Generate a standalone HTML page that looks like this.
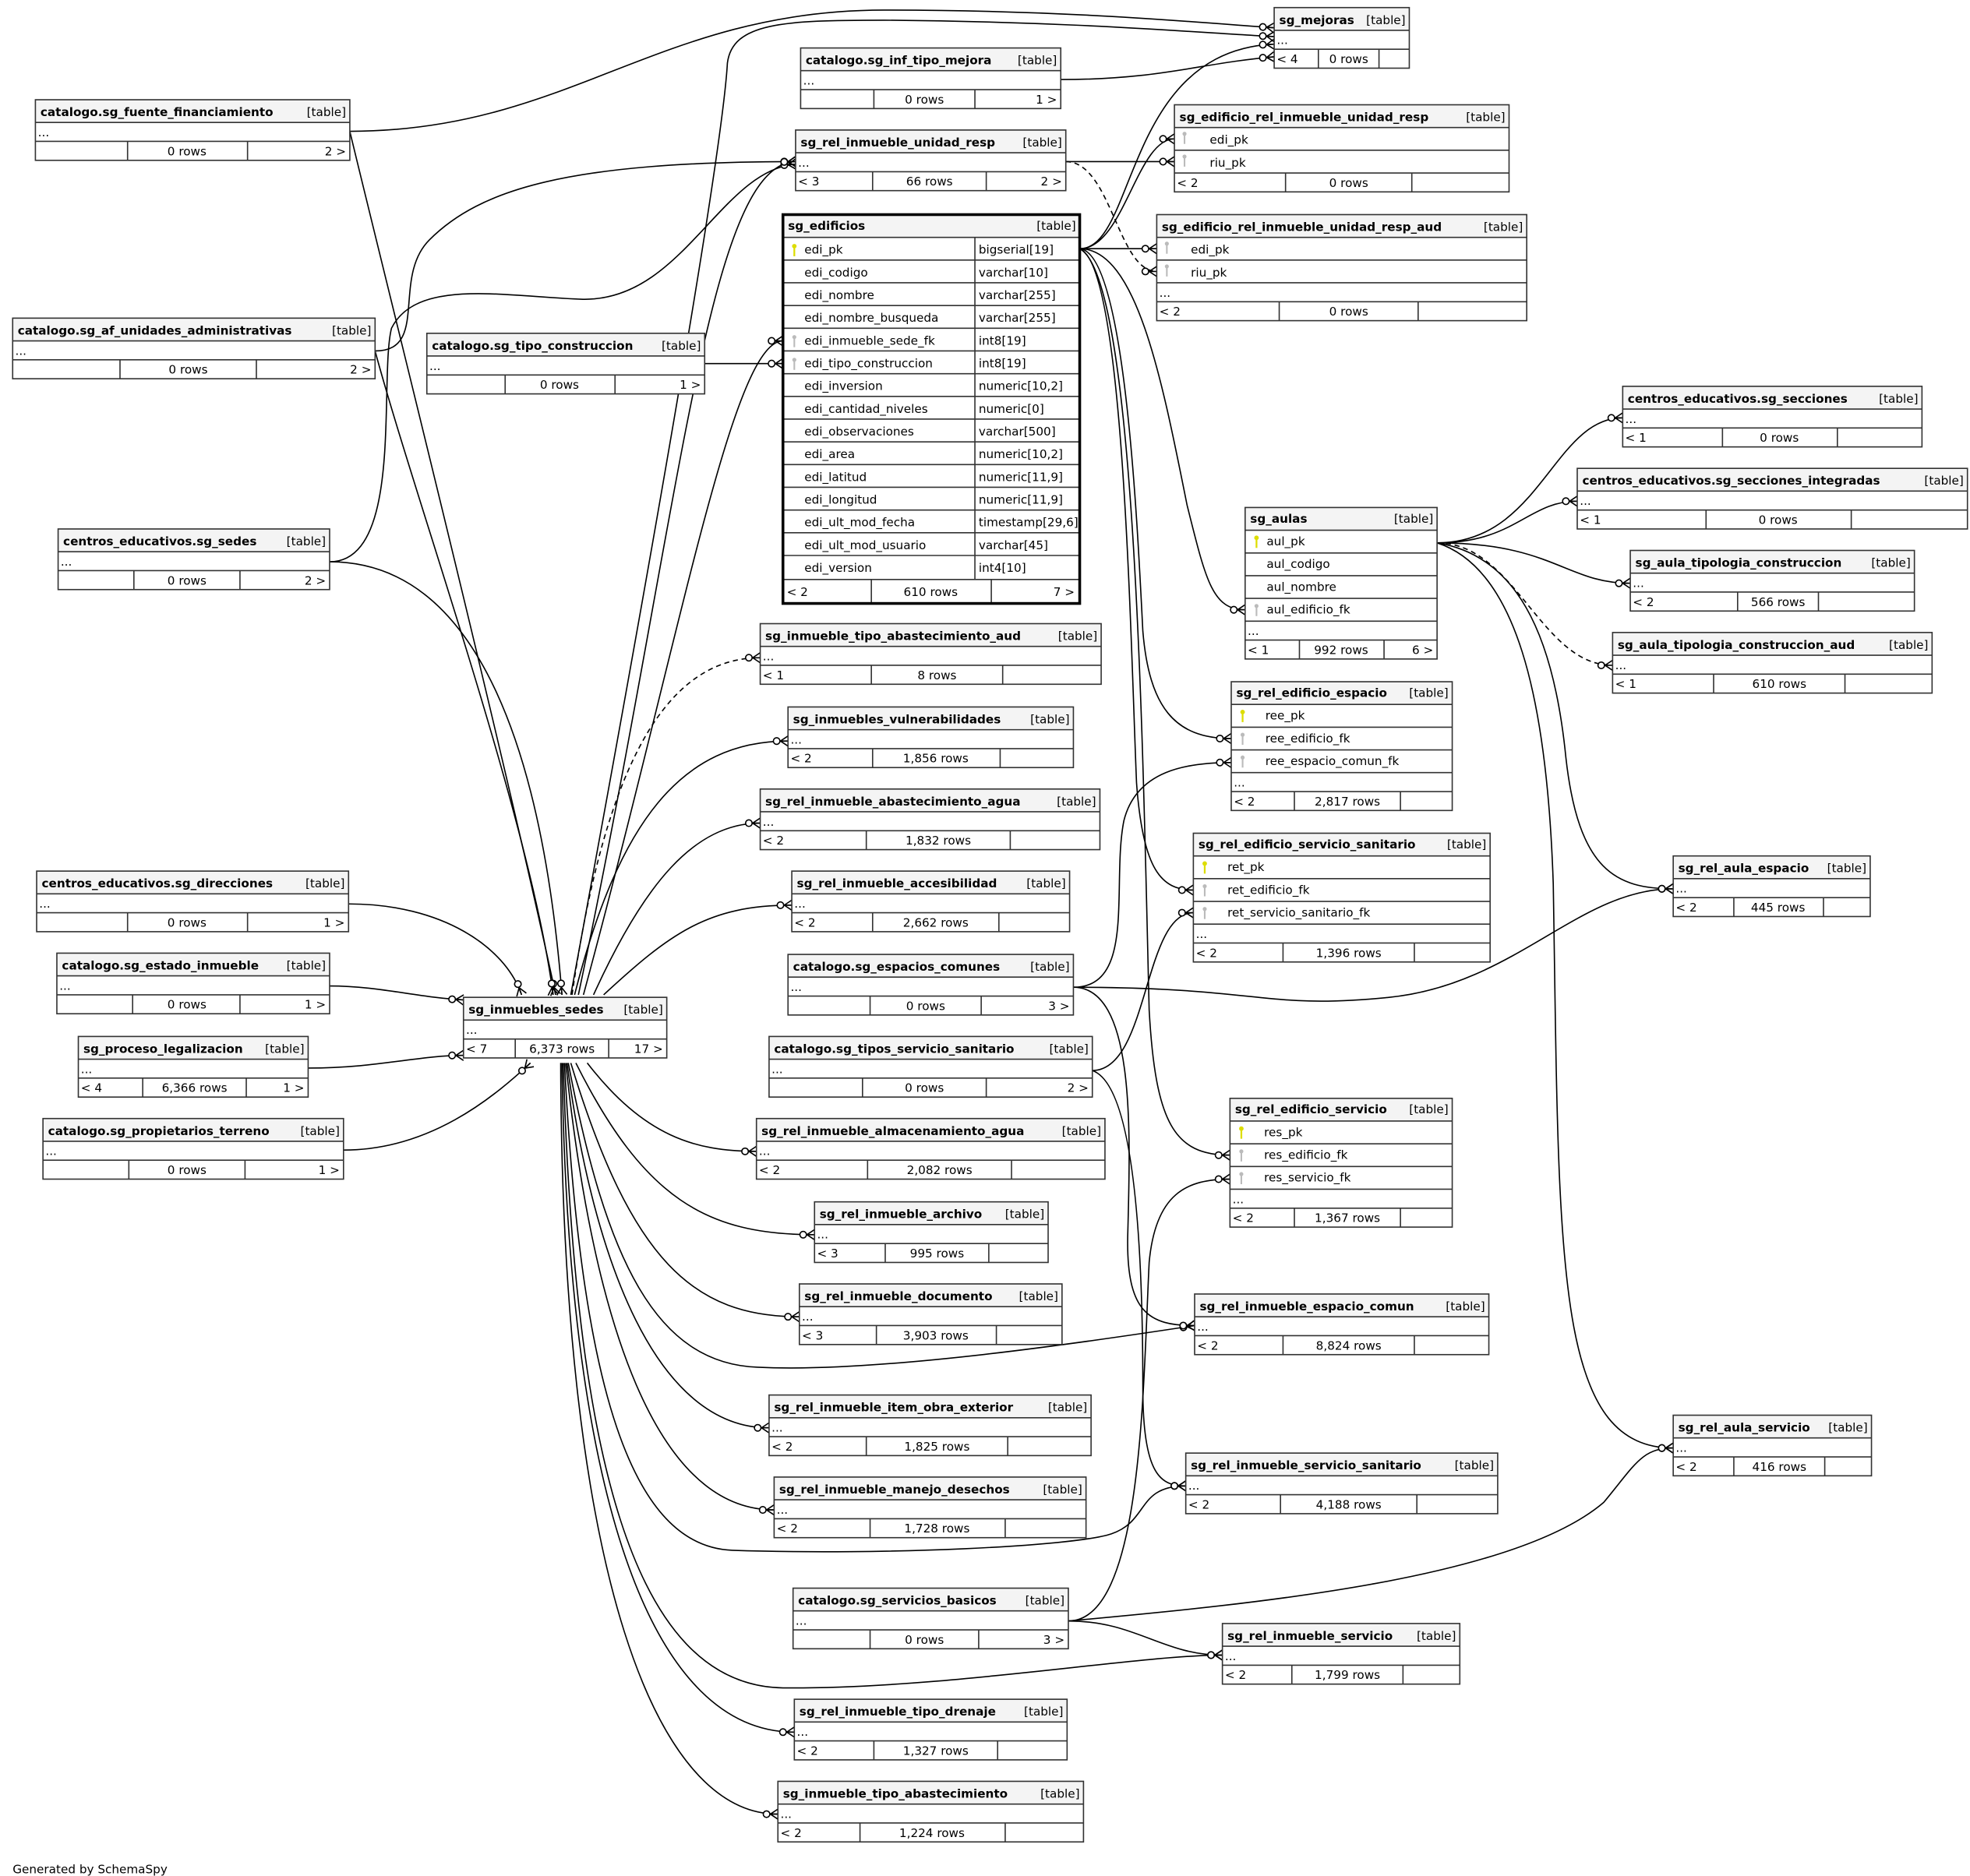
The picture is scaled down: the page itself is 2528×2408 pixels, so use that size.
<!DOCTYPE html>
<html><head><meta charset="utf-8"><style>
html,body{margin:0;padding:0;background:#fff}
svg{display:block}
text{font-family:"DejaVu Sans","Liberation Sans",sans-serif;font-size:9.4px;fill:#000}
.t{font-weight:bold}
.b{fill:none;stroke:#333;stroke-width:1}
.h{fill:#f4f4f4;stroke:none}
.l{stroke:#333;stroke-width:1}
.e{fill:none;stroke:#000;stroke-width:1;marker-end:url(#cf)}
.d{stroke-dasharray:4,3}
</style></head><body>
<svg width="2528" height="2408" viewBox="0 0 1560 1486" xmlns="http://www.w3.org/2000/svg">
<defs>
<marker id="cf" viewBox="-13 -6 14 12" refX="0" refY="0" markerWidth="14" markerHeight="12" markerUnits="userSpaceOnUse" orient="auto">
<path d="M-6,0 L0,-4 M-6,0 L0,0 M-6,0 L0,4" stroke="#000" stroke-width="1" fill="none"/>
<circle cx="-9" cy="0" r="2.6" fill="#fff" stroke="#000" stroke-width="1"/>
</marker>
</defs>

<!-- edges -->
<path class="e" d="M277,104 C450,104 520,8 700,8 C850,8 950,18 1009,22"/>
<path class="e" d="M452,788 C520,420 572,120 576,50 C580,18 620,16 700,16 C850,17 950,26 1009,29"/>
<path class="e" d="M840,63 C920,63 950,50 1009,45"/>
<path class="e" d="M855,197 C900,197 890,40 1009,35"/>
<path class="e" d="M855,197 C890,197 900,110 930,110"/>
<path class="e" d="M855,197 L916,197"/>
<path class="e" d="M844,128 L930,128"/>
<path class="e d" d="M844,128 C880,128 885,215 916,215"/>
<path class="e" d="M297,278 C340,278 310,220 340,190 C380,150 450,128 630,128"/>
<path class="e" d="M261,445 C320,445 300,300 310,260 C330,220 400,235 460,237 C540,240 570,135 630,130"/>
<path class="e" d="M458,788 C540,400 560,130 630,128"/>
<path class="e" d="M462,788 C540,500 580,270 620,270"/>
<path class="e" d="M558,288 L620,288"/>
<path class="e" d="M277,104 C300,200 400,600 440,788"/>
<path class="e" d="M297,278 C330,400 420,650 438,788"/>
<path class="e" d="M261,445 C380,445 430,600 445,788"/>
<path class="e" d="M276,716 C350,716 400,750 413,788"/>
<path class="e" d="M261,781 C300,781 330,790 367,792"/>
<path class="e" d="M244,846 C300,846 330,836 367,836"/>
<path class="e" d="M272,911 C340,911 390,870 420,842"/>
<path class="e d" d="M453,788 C480,600 530,521 602,521"/>
<path class="e" d="M455,788 C490,650 540,587 624,587"/>
<path class="e" d="M470,788 C510,700 550,652 602,652"/>
<path class="e" d="M478,788 C530,740 560,717 627,717"/>
<path class="e" d="M465,842 C510,900 550,912 599,912"/>
<path class="e" d="M456,842 C510,950 560,978 645,978"/>
<path class="e" d="M452,842 C500,1000 550,1043 633,1043"/>
<path class="e" d="M450,842 C480,1000 520,1080 600,1083 C700,1088 880,1060 946,1050"/>
<path class="e" d="M449,842 C470,1000 520,1131 609,1131"/>
<path class="e" d="M448,842 C470,1050 520,1196 613,1196"/>
<path class="e" d="M447,842 C460,1100 500,1225 580,1228 C700,1232 850,1225 880,1215 C910,1205 900,1177 939,1177"/>
<path class="e" d="M446,842 C455,1150 500,1335 620,1337 C750,1338 900,1311 968,1311"/>
<path class="e" d="M445,842 C450,1200 520,1372 629,1372"/>
<path class="e" d="M444,842 C445,1250 520,1437 616,1437"/>
<path class="e" d="M855,197 C900,197 920,300 940,400 C955,460 960,483 986,483"/>
<path class="e" d="M855,197 C890,200 900,400 905,500 C910,560 930,585 975,585"/>
<path class="e" d="M855,197 C890,210 895,500 900,620 C905,690 920,705 945,705"/>
<path class="e" d="M855,197 C900,220 905,600 910,800 C915,890 930,915 974,915"/>
<path class="e" d="M1138,430 C1220,430 1230,331 1285,331"/>
<path class="e" d="M1138,430 C1200,430 1210,397 1249,397"/>
<path class="e" d="M1138,430 C1230,430 1240,462 1291,462"/>
<path class="e d" d="M1138,430 C1200,430 1220,527 1277,527"/>
<path class="e" d="M1138,430 C1200,440 1230,500 1240,600 C1250,690 1280,704 1325,704"/>
<path class="e" d="M1138,430 C1200,450 1225,550 1230,700 C1235,1000 1230,1147 1325,1147"/>
<path class="e" d="M850,782 C900,782 880,700 890,650 C900,610 940,604 975,604"/>
<path class="e" d="M850,782 C1000,782 1000,800 1100,790 C1200,780 1250,704 1325,704"/>
<path class="e" d="M850,782 C900,782 895,900 893,980 C892,1040 910,1050 946,1050"/>
<path class="e" d="M865,848 C910,848 905,723 945,723"/>
<path class="e" d="M865,848 C900,860 905,1000 905,1100 C905,1170 920,1177 939,1177"/>
<path class="e" d="M846,1284 C905,1284 905,1100 910,1000 C915,945 940,934 974,934"/>
<path class="e" d="M846,1284 C900,1284 920,1311 968,1311"/>
<path class="e" d="M846,1284 C1000,1270 1200,1250 1270,1190 C1295,1160 1300,1147 1325,1147"/>

<!-- simple tables -->
<g id="A"><rect x="1009" y="6" width="107" height="48" fill="#fff"/><rect x="1009" y="6" width="107" height="18" class="h"/><line x1="1009" y1="24" x2="1116" y2="24" class="l"/><line x1="1009" y1="39" x2="1116" y2="39" class="l"/><line x1="1044" y1="39" x2="1044" y2="54" class="l"/><line x1="1092" y1="39" x2="1092" y2="54" class="l"/><rect x="1009" y="6" width="107" height="48" class="b"/>
<text x="1013" y="19" class="t">sg_mejoras</text><text x="1113" y="19" text-anchor="end">[table]</text><text x="1011" y="35">...</text><text x="1011" y="50">&lt; 4</text><text x="1068" y="50" text-anchor="middle">0 rows</text></g>

<g><rect x="634" y="38" width="206" height="48" fill="#fff"/><rect x="634" y="38" width="206" height="18" class="h"/><line x1="634" y1="56" x2="840" y2="56" class="l"/><line x1="634" y1="71" x2="840" y2="71" class="l"/><line x1="692" y1="71" x2="692" y2="86" class="l"/><line x1="772" y1="71" x2="772" y2="86" class="l"/><rect x="634" y="38" width="206" height="48" class="b"/>
<text x="638" y="51" class="t">catalogo.sg_inf_tipo_mejora</text><text x="837" y="51" text-anchor="end">[table]</text><text x="636" y="67">...</text><text x="732" y="82" text-anchor="middle">0 rows</text><text x="837" y="82" text-anchor="end">1 &gt;</text></g>

<g><rect x="28" y="79" width="249" height="48" fill="#fff"/><rect x="28" y="79" width="249" height="18" class="h"/><line x1="28" y1="97" x2="277" y2="97" class="l"/><line x1="28" y1="112" x2="277" y2="112" class="l"/><line x1="101" y1="112" x2="101" y2="127" class="l"/><line x1="196" y1="112" x2="196" y2="127" class="l"/><rect x="28" y="79" width="249" height="48" class="b"/>
<text x="32" y="92" class="t">catalogo.sg_fuente_financiamiento</text><text x="274" y="92" text-anchor="end">[table]</text><text x="30" y="108">...</text><text x="148" y="123" text-anchor="middle">0 rows</text><text x="274" y="123" text-anchor="end">2 &gt;</text></g>

<g><rect x="630" y="103" width="214" height="48" fill="#fff"/><rect x="630" y="103" width="214" height="18" class="h"/><line x1="630" y1="121" x2="844" y2="121" class="l"/><line x1="630" y1="136" x2="844" y2="136" class="l"/><line x1="691" y1="136" x2="691" y2="151" class="l"/><line x1="781" y1="136" x2="781" y2="151" class="l"/><rect x="630" y="103" width="214" height="48" class="b"/>
<text x="634" y="116" class="t">sg_rel_inmueble_unidad_resp</text><text x="841" y="116" text-anchor="end">[table]</text><text x="632" y="132">...</text><text x="632" y="147">&lt; 3</text><text x="736" y="147" text-anchor="middle">66 rows</text><text x="841" y="147" text-anchor="end">2 &gt;</text></g>

<g><rect x="10" y="252" width="287" height="48" fill="#fff"/><rect x="10" y="252" width="287" height="18" class="h"/><line x1="10" y1="270" x2="297" y2="270" class="l"/><line x1="10" y1="285" x2="297" y2="285" class="l"/><line x1="95" y1="285" x2="95" y2="300" class="l"/><line x1="203" y1="285" x2="203" y2="300" class="l"/><rect x="10" y="252" width="287" height="48" class="b"/>
<text x="14" y="265" class="t">catalogo.sg_af_unidades_administrativas</text><text x="294" y="265" text-anchor="end">[table]</text><text x="12" y="281">...</text><text x="149" y="296" text-anchor="middle">0 rows</text><text x="294" y="296" text-anchor="end">2 &gt;</text></g>

<g><rect x="338" y="264" width="220" height="48" fill="#fff"/><rect x="338" y="264" width="220" height="18" class="h"/><line x1="338" y1="282" x2="558" y2="282" class="l"/><line x1="338" y1="297" x2="558" y2="297" class="l"/><line x1="400" y1="297" x2="400" y2="312" class="l"/><line x1="487" y1="297" x2="487" y2="312" class="l"/><rect x="338" y="264" width="220" height="48" class="b"/>
<text x="342" y="277" class="t">catalogo.sg_tipo_construccion</text><text x="555" y="277" text-anchor="end">[table]</text><text x="340" y="293">...</text><text x="443" y="308" text-anchor="middle">0 rows</text><text x="555" y="308" text-anchor="end">1 &gt;</text></g>

<g><rect x="46" y="419" width="215" height="48" fill="#fff"/><rect x="46" y="419" width="215" height="18" class="h"/><line x1="46" y1="437" x2="261" y2="437" class="l"/><line x1="46" y1="452" x2="261" y2="452" class="l"/><line x1="106" y1="452" x2="106" y2="467" class="l"/><line x1="190" y1="452" x2="190" y2="467" class="l"/><rect x="46" y="419" width="215" height="48" class="b"/>
<text x="50" y="432" class="t">centros_educativos.sg_sedes</text><text x="258" y="432" text-anchor="end">[table]</text><text x="48" y="448">...</text><text x="148" y="463" text-anchor="middle">0 rows</text><text x="258" y="463" text-anchor="end">2 &gt;</text></g>

<g><rect x="1285" y="306" width="237" height="48" fill="#fff"/><rect x="1285" y="306" width="237" height="18" class="h"/><line x1="1285" y1="324" x2="1522" y2="324" class="l"/><line x1="1285" y1="339" x2="1522" y2="339" class="l"/><line x1="1364" y1="339" x2="1364" y2="354" class="l"/><line x1="1455" y1="339" x2="1455" y2="354" class="l"/><rect x="1285" y="306" width="237" height="48" class="b"/>
<text x="1289" y="319" class="t">centros_educativos.sg_secciones</text><text x="1519" y="319" text-anchor="end">[table]</text><text x="1287" y="335">...</text><text x="1287" y="350">&lt; 1</text><text x="1409" y="350" text-anchor="middle">0 rows</text></g>

<g><rect x="1249" y="371" width="309" height="48" fill="#fff"/><rect x="1249" y="371" width="309" height="18" class="h"/><line x1="1249" y1="389" x2="1558" y2="389" class="l"/><line x1="1249" y1="404" x2="1558" y2="404" class="l"/><line x1="1351" y1="404" x2="1351" y2="419" class="l"/><line x1="1466" y1="404" x2="1466" y2="419" class="l"/><rect x="1249" y="371" width="309" height="48" class="b"/>
<text x="1253" y="384" class="t">centros_educativos.sg_secciones_integradas</text><text x="1555" y="384" text-anchor="end">[table]</text><text x="1251" y="400">...</text><text x="1251" y="415">&lt; 1</text><text x="1408" y="415" text-anchor="middle">0 rows</text></g>

<g><rect x="1291" y="436" width="225" height="48" fill="#fff"/><rect x="1291" y="436" width="225" height="18" class="h"/><line x1="1291" y1="454" x2="1516" y2="454" class="l"/><line x1="1291" y1="469" x2="1516" y2="469" class="l"/><line x1="1376" y1="469" x2="1376" y2="484" class="l"/><line x1="1440" y1="469" x2="1440" y2="484" class="l"/><rect x="1291" y="436" width="225" height="48" class="b"/>
<text x="1295" y="449" class="t">sg_aula_tipologia_construccion</text><text x="1513" y="449" text-anchor="end">[table]</text><text x="1293" y="465">...</text><text x="1293" y="480">&lt; 2</text><text x="1408" y="480" text-anchor="middle">566 rows</text></g>

<g><rect x="1277" y="501" width="253" height="48" fill="#fff"/><rect x="1277" y="501" width="253" height="18" class="h"/><line x1="1277" y1="519" x2="1530" y2="519" class="l"/><line x1="1277" y1="534" x2="1530" y2="534" class="l"/><line x1="1357" y1="534" x2="1357" y2="549" class="l"/><line x1="1461" y1="534" x2="1461" y2="549" class="l"/><rect x="1277" y="501" width="253" height="48" class="b"/>
<text x="1281" y="514" class="t">sg_aula_tipologia_construccion_aud</text><text x="1527" y="514" text-anchor="end">[table]</text><text x="1279" y="530">...</text><text x="1279" y="545">&lt; 1</text><text x="1409" y="545" text-anchor="middle">610 rows</text></g>

<g><rect x="602" y="494" width="270" height="48" fill="#fff"/><rect x="602" y="494" width="270" height="18" class="h"/><line x1="602" y1="512" x2="872" y2="512" class="l"/><line x1="602" y1="527" x2="872" y2="527" class="l"/><line x1="690" y1="527" x2="690" y2="542" class="l"/><line x1="794" y1="527" x2="794" y2="542" class="l"/><rect x="602" y="494" width="270" height="48" class="b"/>
<text x="606" y="507" class="t">sg_inmueble_tipo_abastecimiento_aud</text><text x="869" y="507" text-anchor="end">[table]</text><text x="604" y="523">...</text><text x="604" y="538">&lt; 1</text><text x="742" y="538" text-anchor="middle">8 rows</text></g>

<g><rect x="624" y="560" width="226" height="48" fill="#fff"/><rect x="624" y="560" width="226" height="18" class="h"/><line x1="624" y1="578" x2="850" y2="578" class="l"/><line x1="624" y1="593" x2="850" y2="593" class="l"/><line x1="691" y1="593" x2="691" y2="608" class="l"/><line x1="792" y1="593" x2="792" y2="608" class="l"/><rect x="624" y="560" width="226" height="48" class="b"/>
<text x="628" y="573" class="t">sg_inmuebles_vulnerabilidades</text><text x="847" y="573" text-anchor="end">[table]</text><text x="626" y="589">...</text><text x="626" y="604">&lt; 2</text><text x="741" y="604" text-anchor="middle">1,856 rows</text></g>

<g><rect x="602" y="625" width="269" height="48" fill="#fff"/><rect x="602" y="625" width="269" height="18" class="h"/><line x1="602" y1="643" x2="871" y2="643" class="l"/><line x1="602" y1="658" x2="871" y2="658" class="l"/><line x1="686" y1="658" x2="686" y2="673" class="l"/><line x1="800" y1="658" x2="800" y2="673" class="l"/><rect x="602" y="625" width="269" height="48" class="b"/>
<text x="606" y="638" class="t">sg_rel_inmueble_abastecimiento_agua</text><text x="868" y="638" text-anchor="end">[table]</text><text x="604" y="654">...</text><text x="604" y="669">&lt; 2</text><text x="743" y="669" text-anchor="middle">1,832 rows</text></g>

<g><rect x="1325" y="678" width="156" height="48" fill="#fff"/><rect x="1325" y="678" width="156" height="18" class="h"/><line x1="1325" y1="696" x2="1481" y2="696" class="l"/><line x1="1325" y1="711" x2="1481" y2="711" class="l"/><line x1="1373" y1="711" x2="1373" y2="726" class="l"/><line x1="1444" y1="711" x2="1444" y2="726" class="l"/><rect x="1325" y="678" width="156" height="48" class="b"/>
<text x="1329" y="691" class="t">sg_rel_aula_espacio</text><text x="1478" y="691" text-anchor="end">[table]</text><text x="1327" y="707">...</text><text x="1327" y="722">&lt; 2</text><text x="1408" y="722" text-anchor="middle">445 rows</text></g>

<g><rect x="627" y="690" width="220" height="48" fill="#fff"/><rect x="627" y="690" width="220" height="18" class="h"/><line x1="627" y1="708" x2="847" y2="708" class="l"/><line x1="627" y1="723" x2="847" y2="723" class="l"/><line x1="691" y1="723" x2="691" y2="738" class="l"/><line x1="791" y1="723" x2="791" y2="738" class="l"/><rect x="627" y="690" width="220" height="48" class="b"/>
<text x="631" y="703" class="t">sg_rel_inmueble_accesibilidad</text><text x="844" y="703" text-anchor="end">[table]</text><text x="629" y="719">...</text><text x="629" y="734">&lt; 2</text><text x="741" y="734" text-anchor="middle">2,662 rows</text></g>

<g><rect x="29" y="690" width="247" height="48" fill="#fff"/><rect x="29" y="690" width="247" height="18" class="h"/><line x1="29" y1="708" x2="276" y2="708" class="l"/><line x1="29" y1="723" x2="276" y2="723" class="l"/><line x1="101" y1="723" x2="101" y2="738" class="l"/><line x1="196" y1="723" x2="196" y2="738" class="l"/><rect x="29" y="690" width="247" height="48" class="b"/>
<text x="33" y="703" class="t">centros_educativos.sg_direcciones</text><text x="273" y="703" text-anchor="end">[table]</text><text x="31" y="719">...</text><text x="148" y="734" text-anchor="middle">0 rows</text><text x="273" y="734" text-anchor="end">1 &gt;</text></g>

<g><rect x="624" y="756" width="226" height="48" fill="#fff"/><rect x="624" y="756" width="226" height="18" class="h"/><line x1="624" y1="774" x2="850" y2="774" class="l"/><line x1="624" y1="789" x2="850" y2="789" class="l"/><line x1="689" y1="789" x2="689" y2="804" class="l"/><line x1="777" y1="789" x2="777" y2="804" class="l"/><rect x="624" y="756" width="226" height="48" class="b"/>
<text x="628" y="769" class="t">catalogo.sg_espacios_comunes</text><text x="847" y="769" text-anchor="end">[table]</text><text x="626" y="785">...</text><text x="733" y="800" text-anchor="middle">0 rows</text><text x="847" y="800" text-anchor="end">3 &gt;</text></g>

<g><rect x="45" y="755" width="216" height="48" fill="#fff"/><rect x="45" y="755" width="216" height="18" class="h"/><line x1="45" y1="773" x2="261" y2="773" class="l"/><line x1="45" y1="788" x2="261" y2="788" class="l"/><line x1="105" y1="788" x2="105" y2="803" class="l"/><line x1="190" y1="788" x2="190" y2="803" class="l"/><rect x="45" y="755" width="216" height="48" class="b"/>
<text x="49" y="768" class="t">catalogo.sg_estado_inmueble</text><text x="258" y="768" text-anchor="end">[table]</text><text x="47" y="784">...</text><text x="148" y="799" text-anchor="middle">0 rows</text><text x="258" y="799" text-anchor="end">1 &gt;</text></g>

<g><rect x="367" y="790" width="161" height="48" fill="#fff"/><rect x="367" y="790" width="161" height="18" class="h"/><line x1="367" y1="808" x2="528" y2="808" class="l"/><line x1="367" y1="823" x2="528" y2="823" class="l"/><line x1="408" y1="823" x2="408" y2="838" class="l"/><line x1="482" y1="823" x2="482" y2="838" class="l"/><rect x="367" y="790" width="161" height="48" class="b"/>
<text x="371" y="803" class="t">sg_inmuebles_sedes</text><text x="525" y="803" text-anchor="end">[table]</text><text x="369" y="819">...</text><text x="369" y="834">&lt; 7</text><text x="445" y="834" text-anchor="middle">6,373 rows</text><text x="525" y="834" text-anchor="end">17 &gt;</text></g>

<g><rect x="609" y="821" width="256" height="48" fill="#fff"/><rect x="609" y="821" width="256" height="18" class="h"/><line x1="609" y1="839" x2="865" y2="839" class="l"/><line x1="609" y1="854" x2="865" y2="854" class="l"/><line x1="683" y1="854" x2="683" y2="869" class="l"/><line x1="781" y1="854" x2="781" y2="869" class="l"/><rect x="609" y="821" width="256" height="48" class="b"/>
<text x="613" y="834" class="t">catalogo.sg_tipos_servicio_sanitario</text><text x="862" y="834" text-anchor="end">[table]</text><text x="611" y="850">...</text><text x="732" y="865" text-anchor="middle">0 rows</text><text x="862" y="865" text-anchor="end">2 &gt;</text></g>

<g><rect x="62" y="821" width="182" height="48" fill="#fff"/><rect x="62" y="821" width="182" height="18" class="h"/><line x1="62" y1="839" x2="244" y2="839" class="l"/><line x1="62" y1="854" x2="244" y2="854" class="l"/><line x1="113" y1="854" x2="113" y2="869" class="l"/><line x1="195" y1="854" x2="195" y2="869" class="l"/><rect x="62" y="821" width="182" height="48" class="b"/>
<text x="66" y="834" class="t">sg_proceso_legalizacion</text><text x="241" y="834" text-anchor="end">[table]</text><text x="64" y="850">...</text><text x="64" y="865">&lt; 4</text><text x="154" y="865" text-anchor="middle">6,366 rows</text><text x="241" y="865" text-anchor="end">1 &gt;</text></g>

<g><rect x="34" y="886" width="238" height="48" fill="#fff"/><rect x="34" y="886" width="238" height="18" class="h"/><line x1="34" y1="904" x2="272" y2="904" class="l"/><line x1="34" y1="919" x2="272" y2="919" class="l"/><line x1="102" y1="919" x2="102" y2="934" class="l"/><line x1="194" y1="919" x2="194" y2="934" class="l"/><rect x="34" y="886" width="238" height="48" class="b"/>
<text x="38" y="899" class="t">catalogo.sg_propietarios_terreno</text><text x="269" y="899" text-anchor="end">[table]</text><text x="36" y="915">...</text><text x="148" y="930" text-anchor="middle">0 rows</text><text x="269" y="930" text-anchor="end">1 &gt;</text></g>

<g><rect x="599" y="886" width="276" height="48" fill="#fff"/><rect x="599" y="886" width="276" height="18" class="h"/><line x1="599" y1="904" x2="875" y2="904" class="l"/><line x1="599" y1="919" x2="875" y2="919" class="l"/><line x1="687" y1="919" x2="687" y2="934" class="l"/><line x1="801" y1="919" x2="801" y2="934" class="l"/><rect x="599" y="886" width="276" height="48" class="b"/>
<text x="603" y="899" class="t">sg_rel_inmueble_almacenamiento_agua</text><text x="872" y="899" text-anchor="end">[table]</text><text x="601" y="915">...</text><text x="601" y="930">&lt; 2</text><text x="744" y="930" text-anchor="middle">2,082 rows</text></g>

<g><rect x="645" y="952" width="185" height="48" fill="#fff"/><rect x="645" y="952" width="185" height="18" class="h"/><line x1="645" y1="970" x2="830" y2="970" class="l"/><line x1="645" y1="985" x2="830" y2="985" class="l"/><line x1="701" y1="985" x2="701" y2="1000" class="l"/><line x1="783" y1="985" x2="783" y2="1000" class="l"/><rect x="645" y="952" width="185" height="48" class="b"/>
<text x="649" y="965" class="t">sg_rel_inmueble_archivo</text><text x="827" y="965" text-anchor="end">[table]</text><text x="647" y="981">...</text><text x="647" y="996">&lt; 3</text><text x="742" y="996" text-anchor="middle">995 rows</text></g>

<g><rect x="633" y="1017" width="208" height="48" fill="#fff"/><rect x="633" y="1017" width="208" height="18" class="h"/><line x1="633" y1="1035" x2="841" y2="1035" class="l"/><line x1="633" y1="1050" x2="841" y2="1050" class="l"/><line x1="694" y1="1050" x2="694" y2="1065" class="l"/><line x1="789" y1="1050" x2="789" y2="1065" class="l"/><rect x="633" y="1017" width="208" height="48" class="b"/>
<text x="637" y="1030" class="t">sg_rel_inmueble_documento</text><text x="838" y="1030" text-anchor="end">[table]</text><text x="635" y="1046">...</text><text x="635" y="1061">&lt; 3</text><text x="741" y="1061" text-anchor="middle">3,903 rows</text></g>

<g><rect x="946" y="1025" width="233" height="48" fill="#fff"/><rect x="946" y="1025" width="233" height="18" class="h"/><line x1="946" y1="1043" x2="1179" y2="1043" class="l"/><line x1="946" y1="1058" x2="1179" y2="1058" class="l"/><line x1="1016" y1="1058" x2="1016" y2="1073" class="l"/><line x1="1120" y1="1058" x2="1120" y2="1073" class="l"/><rect x="946" y="1025" width="233" height="48" class="b"/>
<text x="950" y="1038" class="t">sg_rel_inmueble_espacio_comun</text><text x="1176" y="1038" text-anchor="end">[table]</text><text x="948" y="1054">...</text><text x="948" y="1069">&lt; 2</text><text x="1068" y="1069" text-anchor="middle">8,824 rows</text></g>

<g><rect x="609" y="1105" width="255" height="48" fill="#fff"/><rect x="609" y="1105" width="255" height="18" class="h"/><line x1="609" y1="1123" x2="864" y2="1123" class="l"/><line x1="609" y1="1138" x2="864" y2="1138" class="l"/><line x1="686" y1="1138" x2="686" y2="1153" class="l"/><line x1="798" y1="1138" x2="798" y2="1153" class="l"/><rect x="609" y="1105" width="255" height="48" class="b"/>
<text x="613" y="1118" class="t">sg_rel_inmueble_item_obra_exterior</text><text x="861" y="1118" text-anchor="end">[table]</text><text x="611" y="1134">...</text><text x="611" y="1149">&lt; 2</text><text x="742" y="1149" text-anchor="middle">1,825 rows</text></g>

<g><rect x="1325" y="1121" width="157" height="48" fill="#fff"/><rect x="1325" y="1121" width="157" height="18" class="h"/><line x1="1325" y1="1139" x2="1482" y2="1139" class="l"/><line x1="1325" y1="1154" x2="1482" y2="1154" class="l"/><line x1="1373" y1="1154" x2="1373" y2="1169" class="l"/><line x1="1445" y1="1154" x2="1445" y2="1169" class="l"/><rect x="1325" y="1121" width="157" height="48" class="b"/>
<text x="1329" y="1134" class="t">sg_rel_aula_servicio</text><text x="1479" y="1134" text-anchor="end">[table]</text><text x="1327" y="1150">...</text><text x="1327" y="1165">&lt; 2</text><text x="1409" y="1165" text-anchor="middle">416 rows</text></g>

<g><rect x="939" y="1151" width="247" height="48" fill="#fff"/><rect x="939" y="1151" width="247" height="18" class="h"/><line x1="939" y1="1169" x2="1186" y2="1169" class="l"/><line x1="939" y1="1184" x2="1186" y2="1184" class="l"/><line x1="1014" y1="1184" x2="1014" y2="1199" class="l"/><line x1="1122" y1="1184" x2="1122" y2="1199" class="l"/><rect x="939" y="1151" width="247" height="48" class="b"/>
<text x="943" y="1164" class="t">sg_rel_inmueble_servicio_sanitario</text><text x="1183" y="1164" text-anchor="end">[table]</text><text x="941" y="1180">...</text><text x="941" y="1195">&lt; 2</text><text x="1068" y="1195" text-anchor="middle">4,188 rows</text></g>

<g><rect x="613" y="1170" width="247" height="48" fill="#fff"/><rect x="613" y="1170" width="247" height="18" class="h"/><line x1="613" y1="1188" x2="860" y2="1188" class="l"/><line x1="613" y1="1203" x2="860" y2="1203" class="l"/><line x1="689" y1="1203" x2="689" y2="1218" class="l"/><line x1="796" y1="1203" x2="796" y2="1218" class="l"/><rect x="613" y="1170" width="247" height="48" class="b"/>
<text x="617" y="1183" class="t">sg_rel_inmueble_manejo_desechos</text><text x="857" y="1183" text-anchor="end">[table]</text><text x="615" y="1199">...</text><text x="615" y="1214">&lt; 2</text><text x="742" y="1214" text-anchor="middle">1,728 rows</text></g>

<g><rect x="628" y="1258" width="218" height="48" fill="#fff"/><rect x="628" y="1258" width="218" height="18" class="h"/><line x1="628" y1="1276" x2="846" y2="1276" class="l"/><line x1="628" y1="1291" x2="846" y2="1291" class="l"/><line x1="689" y1="1291" x2="689" y2="1306" class="l"/><line x1="775" y1="1291" x2="775" y2="1306" class="l"/><rect x="628" y="1258" width="218" height="48" class="b"/>
<text x="632" y="1271" class="t">catalogo.sg_servicios_basicos</text><text x="843" y="1271" text-anchor="end">[table]</text><text x="630" y="1287">...</text><text x="732" y="1302" text-anchor="middle">0 rows</text><text x="843" y="1302" text-anchor="end">3 &gt;</text></g>

<g><rect x="968" y="1286" width="188" height="48" fill="#fff"/><rect x="968" y="1286" width="188" height="18" class="h"/><line x1="968" y1="1304" x2="1156" y2="1304" class="l"/><line x1="968" y1="1319" x2="1156" y2="1319" class="l"/><line x1="1023" y1="1319" x2="1023" y2="1334" class="l"/><line x1="1111" y1="1319" x2="1111" y2="1334" class="l"/><rect x="968" y="1286" width="188" height="48" class="b"/>
<text x="972" y="1299" class="t">sg_rel_inmueble_servicio</text><text x="1153" y="1299" text-anchor="end">[table]</text><text x="970" y="1315">...</text><text x="970" y="1330">&lt; 2</text><text x="1067" y="1330" text-anchor="middle">1,799 rows</text></g>

<g><rect x="629" y="1346" width="216" height="48" fill="#fff"/><rect x="629" y="1346" width="216" height="18" class="h"/><line x1="629" y1="1364" x2="845" y2="1364" class="l"/><line x1="629" y1="1379" x2="845" y2="1379" class="l"/><line x1="692" y1="1379" x2="692" y2="1394" class="l"/><line x1="790" y1="1379" x2="790" y2="1394" class="l"/><rect x="629" y="1346" width="216" height="48" class="b"/>
<text x="633" y="1359" class="t">sg_rel_inmueble_tipo_drenaje</text><text x="842" y="1359" text-anchor="end">[table]</text><text x="631" y="1375">...</text><text x="631" y="1390">&lt; 2</text><text x="741" y="1390" text-anchor="middle">1,327 rows</text></g>

<g><rect x="616" y="1411" width="242" height="48" fill="#fff"/><rect x="616" y="1411" width="242" height="18" class="h"/><line x1="616" y1="1429" x2="858" y2="1429" class="l"/><line x1="616" y1="1444" x2="858" y2="1444" class="l"/><line x1="681" y1="1444" x2="681" y2="1459" class="l"/><line x1="796" y1="1444" x2="796" y2="1459" class="l"/><rect x="616" y="1411" width="242" height="48" class="b"/>
<text x="620" y="1424" class="t">sg_inmueble_tipo_abastecimiento</text><text x="855" y="1424" text-anchor="end">[table]</text><text x="618" y="1440">...</text><text x="618" y="1455">&lt; 2</text><text x="738" y="1455" text-anchor="middle">1,224 rows</text></g>

<!-- sg_edificio_rel_inmueble_unidad_resp -->
<g><rect x="930" y="83" width="265" height="69" fill="#fff"/><rect x="930" y="83" width="265" height="18" class="h"/>
<line x1="930" y1="101" x2="1195" y2="101" class="l"/><line x1="930" y1="119" x2="1195" y2="119" class="l"/><line x1="930" y1="137" x2="1195" y2="137" class="l"/><line x1="1018" y1="137" x2="1018" y2="152" class="l"/><line x1="1118" y1="137" x2="1118" y2="152" class="l"/><rect x="930" y="83" width="265" height="69" class="b"/>
<text x="934" y="96" class="t">sg_edificio_rel_inmueble_unidad_resp</text><text x="1192" y="96" text-anchor="end">[table]</text>
<circle cx="938" cy="106" r="1.6" fill="#bbb"/><line x1="938" y1="106" x2="938" y2="114" stroke="#bbb" stroke-width="1.3"/><text x="958" y="114">edi_pk</text>
<circle cx="938" cy="124" r="1.6" fill="#bbb"/><line x1="938" y1="124" x2="938" y2="132" stroke="#bbb" stroke-width="1.3"/><text x="958" y="132">riu_pk</text>
<text x="932" y="148">&lt; 2</text><text x="1068" y="148" text-anchor="middle">0 rows</text></g>

<!-- sg_edificio_rel_inmueble_unidad_resp_aud -->
<g><rect x="916" y="170" width="293" height="84" fill="#fff"/><rect x="916" y="170" width="293" height="18" class="h"/>
<line x1="916" y1="188" x2="1209" y2="188" class="l"/><line x1="916" y1="206" x2="1209" y2="206" class="l"/><line x1="916" y1="224" x2="1209" y2="224" class="l"/><line x1="916" y1="239" x2="1209" y2="239" class="l"/><line x1="1013" y1="239" x2="1013" y2="254" class="l"/><line x1="1123" y1="239" x2="1123" y2="254" class="l"/><rect x="916" y="170" width="293" height="84" class="b"/>
<text x="920" y="183" class="t">sg_edificio_rel_inmueble_unidad_resp_aud</text><text x="1206" y="183" text-anchor="end">[table]</text>
<circle cx="924" cy="193" r="1.6" fill="#bbb"/><line x1="924" y1="193" x2="924" y2="201" stroke="#bbb" stroke-width="1.3"/><text x="943" y="201">edi_pk</text>
<circle cx="924" cy="211" r="1.6" fill="#bbb"/><line x1="924" y1="211" x2="924" y2="219" stroke="#bbb" stroke-width="1.3"/><text x="943" y="219">riu_pk</text>
<text x="918" y="235">...</text><text x="918" y="250">&lt; 2</text><text x="1068" y="250" text-anchor="middle">0 rows</text></g>

<!-- sg_edificios -->
<g><rect x="620" y="170" width="235" height="308" fill="#fff"/><rect x="620" y="170" width="235" height="18" class="h"/>
<g class="l">
<line x1="620" y1="188" x2="855" y2="188"/><line x1="620" y1="206" x2="855" y2="206"/><line x1="620" y1="224" x2="855" y2="224"/><line x1="620" y1="242" x2="855" y2="242"/><line x1="620" y1="260" x2="855" y2="260"/><line x1="620" y1="278" x2="855" y2="278"/><line x1="620" y1="296" x2="855" y2="296"/><line x1="620" y1="314" x2="855" y2="314"/><line x1="620" y1="332" x2="855" y2="332"/><line x1="620" y1="350" x2="855" y2="350"/><line x1="620" y1="368" x2="855" y2="368"/><line x1="620" y1="386" x2="855" y2="386"/><line x1="620" y1="404" x2="855" y2="404"/><line x1="620" y1="422" x2="855" y2="422"/><line x1="620" y1="440" x2="855" y2="440"/><line x1="620" y1="459" x2="855" y2="459"/>
<line x1="772" y1="188" x2="772" y2="459"/><line x1="690" y1="459" x2="690" y2="478"/><line x1="785" y1="459" x2="785" y2="478"/></g>
<rect x="620" y="170" width="235" height="308" fill="none" stroke="#000" stroke-width="2.2"/>
<text x="624" y="182" class="t">sg_edificios</text><text x="852" y="182" text-anchor="end">[table]</text>
<circle cx="629" cy="195" r="1.8" fill="#dddd00"/><line x1="629" y1="195" x2="629" y2="203" stroke="#dddd00" stroke-width="1.4"/>
<circle cx="629" cy="267" r="1.6" fill="#bbb"/><line x1="629" y1="267" x2="629" y2="275" stroke="#bbb" stroke-width="1.3"/>
<circle cx="629" cy="285" r="1.6" fill="#bbb"/><line x1="629" y1="285" x2="629" y2="293" stroke="#bbb" stroke-width="1.3"/>
<text x="637" y="201">edi_pk</text><text x="775" y="201">bigserial[19]</text>
<text x="637" y="219">edi_codigo</text><text x="775" y="219">varchar[10]</text>
<text x="637" y="237">edi_nombre</text><text x="775" y="237">varchar[255]</text>
<text x="637" y="255">edi_nombre_busqueda</text><text x="775" y="255">varchar[255]</text>
<text x="637" y="273">edi_inmueble_sede_fk</text><text x="775" y="273">int8[19]</text>
<text x="637" y="291">edi_tipo_construccion</text><text x="775" y="291">int8[19]</text>
<text x="637" y="309">edi_inversion</text><text x="775" y="309">numeric[10,2]</text>
<text x="637" y="327">edi_cantidad_niveles</text><text x="775" y="327">numeric[0]</text>
<text x="637" y="345">edi_observaciones</text><text x="775" y="345">varchar[500]</text>
<text x="637" y="363">edi_area</text><text x="775" y="363">numeric[10,2]</text>
<text x="637" y="381">edi_latitud</text><text x="775" y="381">numeric[11,9]</text>
<text x="637" y="399">edi_longitud</text><text x="775" y="399">numeric[11,9]</text>
<text x="637" y="417">edi_ult_mod_fecha</text><text x="775" y="417">timestamp[29,6]</text>
<text x="637" y="435">edi_ult_mod_usuario</text><text x="775" y="435">varchar[45]</text>
<text x="637" y="453">edi_version</text><text x="775" y="453">int4[10]</text>
<text x="623" y="472">&lt; 2</text><text x="737" y="472" text-anchor="middle">610 rows</text><text x="851" y="472" text-anchor="end">7 &gt;</text></g>

<!-- sg_aulas -->
<g><rect x="986" y="402" width="152" height="120" fill="#fff"/><rect x="986" y="402" width="152" height="18" class="h"/>
<g class="l"><line x1="986" y1="420" x2="1138" y2="420"/><line x1="986" y1="438" x2="1138" y2="438"/><line x1="986" y1="456" x2="1138" y2="456"/><line x1="986" y1="474" x2="1138" y2="474"/><line x1="986" y1="492" x2="1138" y2="492"/><line x1="986" y1="507" x2="1138" y2="507"/><line x1="1029" y1="507" x2="1029" y2="522"/><line x1="1096" y1="507" x2="1096" y2="522"/></g>
<rect x="986" y="402" width="152" height="120" class="b"/>
<text x="990" y="414" class="t">sg_aulas</text><text x="1135" y="414" text-anchor="end">[table]</text>
<circle cx="995" cy="426" r="1.8" fill="#dddd00"/><line x1="995" y1="426" x2="995" y2="434" stroke="#dddd00" stroke-width="1.4"/>
<circle cx="995" cy="480" r="1.6" fill="#bbb"/><line x1="995" y1="480" x2="995" y2="488" stroke="#bbb" stroke-width="1.3"/>
<text x="1003" y="432">aul_pk</text><text x="1003" y="450">aul_codigo</text><text x="1003" y="468">aul_nombre</text><text x="1003" y="486">aul_edificio_fk</text>
<text x="988" y="503">...</text><text x="988" y="518">&lt; 1</text><text x="1062" y="518" text-anchor="middle">992 rows</text><text x="1135" y="518" text-anchor="end">6 &gt;</text></g>

<!-- sg_rel_edificio_espacio -->
<g><rect x="975" y="540" width="175" height="102" fill="#fff"/><rect x="975" y="540" width="175" height="18" class="h"/>
<g class="l"><line x1="975" y1="558" x2="1150" y2="558"/><line x1="975" y1="576" x2="1150" y2="576"/><line x1="975" y1="594" x2="1150" y2="594"/><line x1="975" y1="612" x2="1150" y2="612"/><line x1="975" y1="627" x2="1150" y2="627"/><line x1="1025" y1="627" x2="1025" y2="642"/><line x1="1109" y1="627" x2="1109" y2="642"/></g>
<rect x="975" y="540" width="175" height="102" class="b"/>
<text x="979" y="552" class="t">sg_rel_edificio_espacio</text><text x="1147" y="552" text-anchor="end">[table]</text>
<circle cx="984" cy="564" r="1.8" fill="#dddd00"/><line x1="984" y1="564" x2="984" y2="572" stroke="#dddd00" stroke-width="1.4"/>
<circle cx="984" cy="582" r="1.6" fill="#bbb"/><line x1="984" y1="582" x2="984" y2="590" stroke="#bbb" stroke-width="1.3"/>
<circle cx="984" cy="600" r="1.6" fill="#bbb"/><line x1="984" y1="600" x2="984" y2="608" stroke="#bbb" stroke-width="1.3"/>
<text x="1002" y="570">ree_pk</text><text x="1002" y="588">ree_edificio_fk</text><text x="1002" y="606">ree_espacio_comun_fk</text>
<text x="977" y="623">...</text><text x="977" y="638">&lt; 2</text><text x="1067" y="638" text-anchor="middle">2,817 rows</text></g>

<!-- sg_rel_edificio_servicio_sanitario -->
<g><rect x="945" y="660" width="235" height="102" fill="#fff"/><rect x="945" y="660" width="235" height="18" class="h"/>
<g class="l"><line x1="945" y1="678" x2="1180" y2="678"/><line x1="945" y1="696" x2="1180" y2="696"/><line x1="945" y1="714" x2="1180" y2="714"/><line x1="945" y1="732" x2="1180" y2="732"/><line x1="945" y1="747" x2="1180" y2="747"/><line x1="1016" y1="747" x2="1016" y2="762"/><line x1="1120" y1="747" x2="1120" y2="762"/></g>
<rect x="945" y="660" width="235" height="102" class="b"/>
<text x="949" y="672" class="t">sg_rel_edificio_servicio_sanitario</text><text x="1177" y="672" text-anchor="end">[table]</text>
<circle cx="954" cy="684" r="1.8" fill="#dddd00"/><line x1="954" y1="684" x2="954" y2="692" stroke="#dddd00" stroke-width="1.4"/>
<circle cx="954" cy="702" r="1.6" fill="#bbb"/><line x1="954" y1="702" x2="954" y2="710" stroke="#bbb" stroke-width="1.3"/>
<circle cx="954" cy="720" r="1.6" fill="#bbb"/><line x1="954" y1="720" x2="954" y2="728" stroke="#bbb" stroke-width="1.3"/>
<text x="972" y="690">ret_pk</text><text x="972" y="708">ret_edificio_fk</text><text x="972" y="726">ret_servicio_sanitario_fk</text>
<text x="947" y="743">...</text><text x="947" y="758">&lt; 2</text><text x="1068" y="758" text-anchor="middle">1,396 rows</text></g>

<!-- sg_rel_edificio_servicio -->
<g><rect x="974" y="870" width="176" height="102" fill="#fff"/><rect x="974" y="870" width="176" height="18" class="h"/>
<g class="l"><line x1="974" y1="888" x2="1150" y2="888"/><line x1="974" y1="906" x2="1150" y2="906"/><line x1="974" y1="924" x2="1150" y2="924"/><line x1="974" y1="942" x2="1150" y2="942"/><line x1="974" y1="957" x2="1150" y2="957"/><line x1="1025" y1="957" x2="1025" y2="972"/><line x1="1109" y1="957" x2="1109" y2="972"/></g>
<rect x="974" y="870" width="176" height="102" class="b"/>
<text x="978" y="882" class="t">sg_rel_edificio_servicio</text><text x="1147" y="882" text-anchor="end">[table]</text>
<circle cx="983" cy="894" r="1.8" fill="#dddd00"/><line x1="983" y1="894" x2="983" y2="902" stroke="#dddd00" stroke-width="1.4"/>
<circle cx="983" cy="912" r="1.6" fill="#bbb"/><line x1="983" y1="912" x2="983" y2="920" stroke="#bbb" stroke-width="1.3"/>
<circle cx="983" cy="930" r="1.6" fill="#bbb"/><line x1="983" y1="930" x2="983" y2="938" stroke="#bbb" stroke-width="1.3"/>
<text x="1001" y="900">res_pk</text><text x="1001" y="918">res_edificio_fk</text><text x="1001" y="936">res_servicio_fk</text>
<text x="976" y="953">...</text><text x="976" y="968">&lt; 2</text><text x="1067" y="968" text-anchor="middle">1,367 rows</text></g>

<text x="10" y="1484">Generated by SchemaSpy</text>
</svg>
</body></html>
